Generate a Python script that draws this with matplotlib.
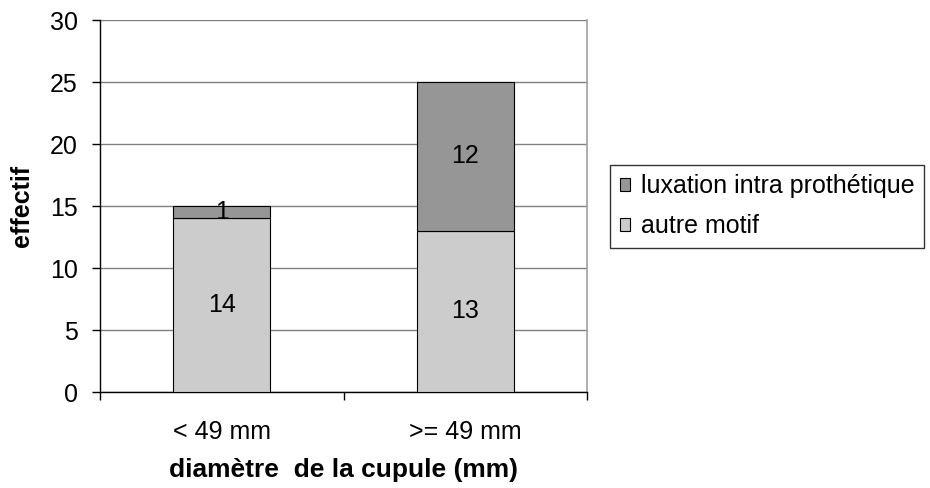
import matplotlib

matplotlib.use("Agg")
import matplotlib.pyplot as plt
import numpy as np

plt.rcParams["font.family"] = ["Liberation Sans", "DejaVu Sans"]

categories = ["< 49 mm", ">= 49 mm"]
autre_motif = [14, 13]
luxation = [1, 12]

LIGHT = "#cccccc"
DARK = "#969696"
GRID = "#808080"
FS = 18

fig = plt.figure(figsize=(9.3, 4.88), dpi=100)
ax = fig.add_axes([100 / 930, 1 - 392 / 488, 487 / 930, 372 / 488])

x = np.arange(len(categories))
w = 0.40
b1 = ax.bar(x, autre_motif, w, color=LIGHT, edgecolor="#000000", linewidth=0.8,
            label="autre motif", zorder=3)
b2 = ax.bar(x, luxation, w, bottom=autre_motif, color=DARK, edgecolor="#000000",
            linewidth=0.8, label="luxation intra prothétique", zorder=3)

for i in range(len(categories)):
    ax.text(x[i], autre_motif[i] / 2, str(autre_motif[i]), ha="center", va="center",
            fontsize=FS, zorder=4)
    ax.text(x[i], autre_motif[i] + luxation[i] / 2, str(luxation[i]), ha="center",
            va="center", fontsize=FS, zorder=4)

ax.set_xlim(-0.5, len(categories) - 0.5)
ax.set_ylim(0, 30)
ax.set_yticks(range(0, 31, 5))
ax.yaxis.grid(True, color=GRID, linewidth=1.0, zorder=0)
ax.set_axisbelow(True)

ax.set_xticks(x)
ax.set_xticklabels(categories, fontsize=FS)
ax.set_xticks([-0.5, 0.5, 1.5], minor=True)
ax.tick_params(axis="x", which="major", length=0, pad=20)
ax.tick_params(axis="x", which="minor", length=6, width=1.0, direction="out",
               color="#000000")
ax.tick_params(axis="y", length=6, width=1.0, direction="out", labelsize=FS, pad=10)

for side in ("left", "bottom"):
    ax.spines[side].set_color("#000000")
    ax.spines[side].set_linewidth(1.0)
ax.spines["top"].set_visible(False)
ax.spines["right"].set_color("#a0a0a0")
ax.spines["right"].set_linewidth(1.2)

ax.set_ylabel("effectif", fontsize=FS, fontweight="bold", va="center")
ax.yaxis.set_label_coords(-78 / 487, 0.5)
ax.set_xlabel("diamètre  de la cupule (mm)", fontsize=19, fontweight="bold", va="center")
ax.xaxis.set_label_coords(0.5, -78 / 372)

leg = fig.legend(handles=[b2, b1], labels=["luxation intra prothétique", "autre motif"],
                 loc="upper left", bbox_to_anchor=(610 / 930, 1 - 165 / 488),
                 frameon=True, fancybox=False, fontsize=FS, handlelength=0.42,
                 handleheight=0.42, handletextpad=0.45, borderpad=0.38,
                 labelspacing=0.62, borderaxespad=0)
leg.get_frame().set_edgecolor("#000000")
leg.get_frame().set_linewidth(1.0)

fig.savefig("out.png", dpi=100)
